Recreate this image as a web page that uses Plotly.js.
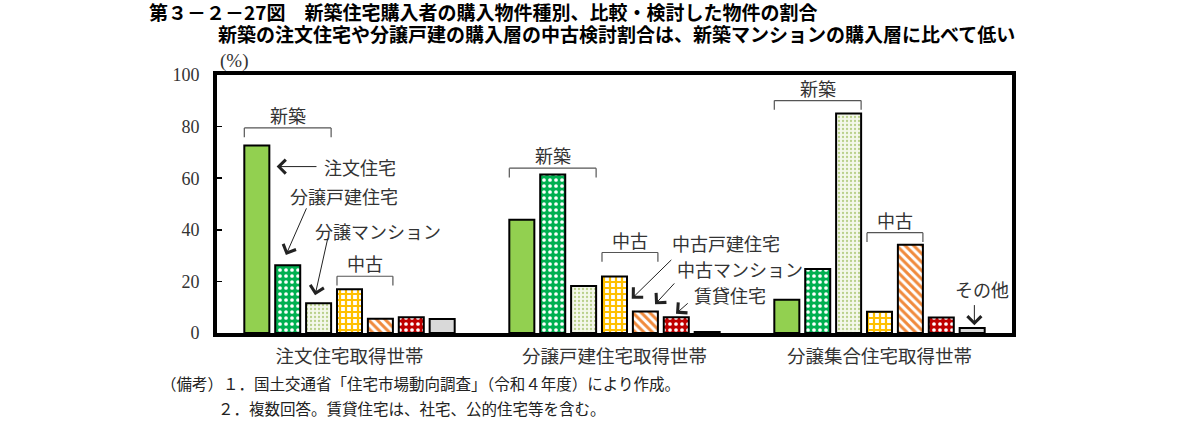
<!DOCTYPE html>
<html>
<head>
<meta charset="utf-8">
<script src="https://cdn.plot.ly/plotly-3.0.1.min.js"></script>
<style>
  body { margin: 0; background: #fff; }
  #chart { width: 1185px; height: 444px; }
</style>
</head>
<body>
<div id="chart"></div>
<script>
// categories and series (%)
var categories = ['注文住宅取得世帯', '分譲戸建住宅取得世帯', '分譲集合住宅取得世帯']
var seriesNames = ['注文住宅', '分譲戸建住宅', '分譲マンション', '中古戸建住宅', '中古マンション', '賃貸住宅', 'その他']
var chumon = [72.7, 43.9, 12.9]
var bunjoKodate = [26.3, 61.4, 24.8]
var bunjoMansion = [11.5, 18.2, 85.1]
var chukoKodate = [17.0, 21.9, 8.2]
var chukoMansion = [5.5, 8.3, 34.2]
var chintai = [6.1, 6.1, 6.0]
var sonota = [5.4, 0.4, 1.9]
var yTicks = [0, 20, 40, 60, 80, 100]

var values = [chumon, bunjoKodate, bunjoMansion, chukoKodate, chukoMansion, chintai, sonota]

// fill style for each series
var fills = [
  {color: '#92D050'},
  {color: '#00B050', pattern: {shape: '.', bgcolor: '#00B050', fgcolor: '#ffffff', size: 6, solidity: 0.3, fillmode: 'replace'}},
  {color: '#F3F7E8', pattern: {shape: '.', bgcolor: '#F4F8EA', fgcolor: '#B9D08A', size: 4, solidity: 0.25, fillmode: 'replace'}},
  {color: '#FFC000', pattern: {shape: '+', bgcolor: '#FFFFFF', fgcolor: '#FFC000', size: 6, solidity: 0.6, fillmode: 'replace'}},
  {color: '#F79646', pattern: {shape: '\\', bgcolor: '#FFFFFF', fgcolor: '#F08A3C', size: 6, solidity: 0.5, fillmode: 'replace'}},
  {color: '#C00000', pattern: {shape: '.', bgcolor: '#C00000', fgcolor: '#ffffff', size: 6, solidity: 0.3, fillmode: 'replace'}},
  {color: '#D9D9D9'}
]

var bargap = 0.184
var bargroupgap = 0.19
var slot = (1 - bargap) / seriesNames.length
var barW = slot * (1 - bargroupgap)

// x position (category units) of bar i inside group g
function barX(g, i) {
  return g + (i - (seriesNames.length - 1) / 2) * slot
}

var traces = seriesNames.map(function (name, i) {
  var m = {color: fills[i].color, line: {color: '#000', width: 2}}
  if (fills[i].pattern) m.pattern = fills[i].pattern
  return {
    type: 'bar',
    name: name,
    x: categories,
    y: values[i],
    marker: m,
    hoverinfo: 'x+y+name'
  }
})

// brackets: [group, first bar, last bar, height of bracket, label]
var brackets = [
  [0, 0, 2, 79.5, '新築'],
  [0, 3, 4, 22.0, '中古'],
  [1, 0, 2, 63.9, '新築'],
  [1, 3, 4, 31.2, '中古'],
  [2, 0, 2, 90.1, '新築'],
  [2, 3, 4, 38.9, '中古']
]
var dip = 3.6

var labelFont = {family: 'Noto Sans CJK JP', size: 18, color: '#333'}

var shapes = []
var annotations = []
brackets.forEach(function (b) {
  var x0 = barX(b[0], b[1]) - barW / 2
  var x1 = barX(b[0], b[2]) + barW / 2
  var ln = {color: '#555', width: 1.2}
  shapes.push({type: 'line', xref: 'x', yref: 'y', x0: x0, x1: x1, y0: b[3], y1: b[3], line: ln})
  shapes.push({type: 'line', xref: 'x', yref: 'y', x0: x0, x1: x0, y0: b[3], y1: b[3] - dip, line: ln})
  shapes.push({type: 'line', xref: 'x', yref: 'y', x0: x1, x1: x1, y0: b[3], y1: b[3] - dip, line: ln})
  annotations.push({xref: 'x', yref: 'y', x: (x0 + x1) / 2, y: b[3], yshift: 13, text: b[4],
    showarrow: false, font: labelFont, xanchor: 'center', yanchor: 'middle'})
})

// pointer labels: [text x, text y, tail x, tail y, tip x, tip y, text]
var pointers = [
  [-0.105, 64.5, -0.119, 64.5, -0.275, 64.5, '注文住宅'],
  [-0.232, 53.1, -0.160, 48.9, -0.240, 30.2, '分譲戸建住宅'],
  [-0.138, 39.5, -0.081, 37.2, -0.130, 14.6, '分譲マンション'],
  [1.209, 34.7, 1.220, 28.9, 1.065, 13.3, '中古戸建住宅'],
  [1.228, 25.0, 1.231, 19.8, 1.153, 11.1, '中古マンション'],
  [1.291, 14.6, 1.282, 12.0, 1.232, 7.5, '賃貸住宅'],
  [2.276, 17.2, 2.358, 11.4, 2.358, 3.0, 'その他']
]
pointers.forEach(function (p) {
  annotations.push({xref: 'x', yref: 'y', x: p[0], y: p[1], text: p[6], showarrow: false,
    font: labelFont, xanchor: 'left', yanchor: 'middle'})
  annotations.push({xref: 'x', yref: 'y', axref: 'x', ayref: 'y', x: p[4], y: p[5], ax: p[2], ay: p[3],
    text: '', showarrow: true, arrowhead: 4, arrowsize: 2.7, arrowwidth: 1, arrowcolor: '#222'})
})

// titles and notes
annotations.push({xref: 'paper', yref: 'paper', x: -0.0868, y: 1, xanchor: 'left', yanchor: 'middle', yshift: 64,
  borderpad: 0,
  text: '<b>第３－２－27図　新築住宅購入者の購入物件種別、比較・検討した物件の割合</b>',
  showarrow: false, font: {family: 'Noto Sans CJK JP', size: 19, color: '#000'}})
annotations.push({xref: 'paper', yref: 'paper', x: 0, y: 1, xanchor: 'left', yanchor: 'middle', yshift: 42,
  borderpad: 0,
  text: '<b>新築の注文住宅や分譲戸建の購入層の中古検討割合は、新築マンションの購入層に比べて低い</b>',
  showarrow: false, font: {family: 'Noto Sans CJK JP', size: 19, color: '#000'}})
annotations.push({xref: 'paper', yref: 'paper', x: 0, y: 1, xanchor: 'left', yanchor: 'bottom', xshift: 1, yshift: 1,
  text: '(%)', showarrow: false, font: {family: 'Liberation Serif, DejaVu Serif, serif', size: 19, color: '#333'}})
annotations.push({xref: 'paper', yref: 'paper', x: -0.073, y: 0, xanchor: 'left', yanchor: 'middle', yshift: -50,
  text: '（備考）１．国土交通省「住宅市場動向調査」（令和４年度）により作成。',
  showarrow: false, font: {family: 'Noto Sans CJK JP', size: 15.5, color: '#222'}})
annotations.push({xref: 'paper', yref: 'paper', x: -0.001, y: 0, xanchor: 'left', yanchor: 'middle', yshift: -75,
  text: '２．複数回答。賃貸住宅は、社宅、公的住宅等を含む。',
  showarrow: false, font: {family: 'Noto Sans CJK JP', size: 15.5, color: '#222'}})

var layout = {
  width: 1185,
  height: 444,
  margin: {l: 217, r: 173, t: 75, b: 111},
  paper_bgcolor: '#fff',
  plot_bgcolor: '#fff',
  showlegend: false,
  barmode: 'group',
  bargap: bargap,
  bargroupgap: bargroupgap,
  xaxis: {
    type: 'category',
    showline: true, linewidth: 4, linecolor: '#000', mirror: true,
    ticks: '', showgrid: false, zeroline: false,
    ticklabelstandoff: 4,
    tickfont: {family: 'Noto Sans CJK JP', size: 18.5, color: '#333'},
    fixedrange: true
  },
  yaxis: {
    range: [0, 100],
    tickvals: yTicks,
    ticks: 'inside', ticklen: 5, tickwidth: 1.5, tickcolor: '#000',
    showline: true, linewidth: 4, linecolor: '#000', mirror: true,
    showgrid: false, zeroline: false,
    ticklabelstandoff: 10,
    tickfont: {family: 'Liberation Serif, DejaVu Serif, serif', size: 18, color: '#333'},
    fixedrange: true
  },
  shapes: shapes,
  annotations: annotations
}

Plotly.newPlot(document.getElementById('chart'), traces, layout, {displayModeBar: false, staticPlot: true})
</script>
</body>
</html>
